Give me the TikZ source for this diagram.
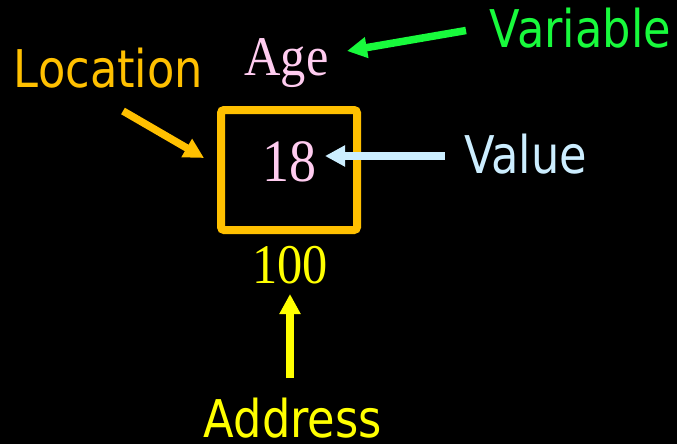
\documentclass[tikz,border=0pt]{standalone}
\usepackage{fontspec}
\setmainfont[FakeStretch=0.9]{Liberation Serif}
\newfontfamily\labfont[FakeStretch=0.86]{DejaVu Sans}
\usetikzlibrary{arrows.meta}
\definecolor{cgold}{RGB}{255,192,0}
\definecolor{cgreen}{RGB}{24,250,60}
\definecolor{cpink}{RGB}{255,204,240}
\definecolor{cblue}{RGB}{204,238,255}
\definecolor{cyel}{RGB}{255,255,0}
\begin{document}
\begin{tikzpicture}[x=1pt,y=-1pt,
  lab/.style={inner sep=0pt,anchor=base,font=\labfont\fontsize{52}{52}\selectfont},
  val/.style={inner sep=0pt,anchor=base,font=\fontsize{56}{56}\selectfont},
  arr/.style={line width=7.5pt,-{Triangle[width=20pt,length=20pt]}},
  cell/.style={draw=cgold,line width=8pt,rounded corners=3pt,minimum width=136pt,minimum height=120pt,inner sep=0pt}]
\fill[black] (0,0) rectangle (677,444);
\useasboundingbox (0,0) rectangle (677,444);
\node[cell] (box) at (289,170) {};
\node[val,text=cpink] (age) at (286.5,75) {Age};
\node[val,text=cpink,font=\fontsize{60}{60}\selectfont] (v18) at (289,181) {18};
\node[val,text=cyel] (addr) at (290,283) {100};
\node[lab,text=cgold] (loc) at (108.5,87) {Location};
\node[lab,text=cgreen] (var) at (580.5,48) {Variable};
\node[lab,text=cblue] (valu) at (525.5,173) {Value};
\node[lab,text=cyel] (address) at (293,437) {Address};
\coordinate (locT) at (123,111);
\coordinate (locH) at (204,158);
\coordinate (varT) at (466,30.5);
\coordinate (varH) at (347,51);
\coordinate (valT) at (445,156);
\coordinate (valH) at (325,156);
\coordinate (adT) at (290,378);
\coordinate (adH) at (290,294);
\draw[arr,cgold] (locT) -- (locH);
\draw[arr,cgreen] (varT) -- (varH);
\draw[arr,cblue] (valT) -- (valH);
\draw[arr,cyel] (adT) -- (adH);
\end{tikzpicture}
\end{document}
